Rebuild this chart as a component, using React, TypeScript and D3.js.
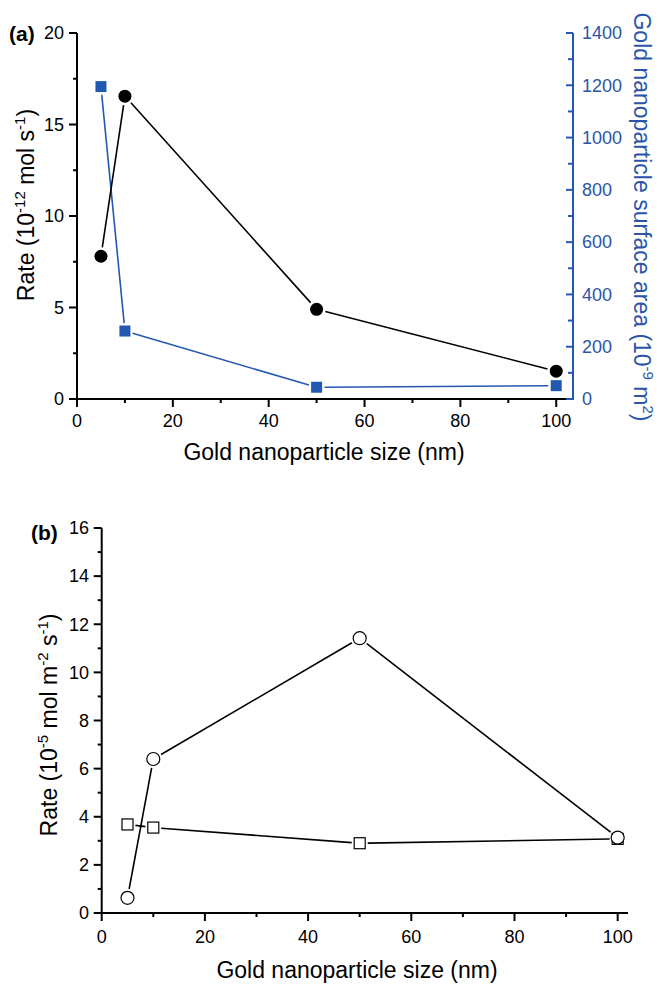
import React from "react";
import * as d3 from "d3";

const sizes = [5, 10, 50, 100];
const rateA = [7.8, 16.55, 4.9, 1.52];
const surfaceArea = [1195, 260, 45, 51];
const rateB_circle = [0.63, 6.4, 11.42, 3.13];
const rateB_square = [3.68, 3.55, 2.9, 3.08];

const xTicksMajor = [0, 20, 40, 60, 80, 100];
const xTicksMinor = [10, 30, 50, 70, 90];
const yTicksA = [0, 5, 10, 15, 20];
const yMinorA = [2.5, 7.5, 12.5, 17.5];
const yTicksRight = [0, 200, 400, 600, 800, 1000, 1200, 1400];
const yMinorRight = [100, 300, 500, 700, 900, 1100, 1300];
const yTicksB = [0, 2, 4, 6, 8, 10, 12, 14, 16];
const yMinorB = [1, 3, 5, 7, 9, 11, 13, 15];

const FONT = "'Liberation Sans', Arial, sans-serif";
const BLUE = "#2358b2";
const BLUE_TEXT = "#2a55a8";

function gappedSegments(pts: [number, number][], gap: number) {
  const segs: [number, number, number, number][] = [];
  for (let i = 0; i < pts.length - 1; i++) {
    const [x1, y1] = pts[i];
    const [x2, y2] = pts[i + 1];
    const dx = x2 - x1, dy = y2 - y1;
    const L = Math.hypot(dx, dy);
    if (L <= 2 * gap) continue;
    const ux = dx / L, uy = dy / L;
    segs.push([x1 + ux * gap, y1 + uy * gap, x2 - ux * gap, y2 - uy * gap]);
  }
  return segs;
}

export default function App() {
  // Panel (a)
  const xA = d3.scaleLinear().domain([0, 103.5]).range([77, 573]);
  const yA = d3.scaleLinear().domain([0, 20]).range([399, 33]);
  const yR = d3.scaleLinear().domain([0, 1400]).range([399, 33]);
  // Panel (b)
  const xB = d3.scaleLinear().domain([0, 102]).range([101.7, 628]);
  const yB = d3.scaleLinear().domain([0, 16]).range([913, 528]);

  const ptsA = sizes.map((s, i) => [xA(s), yA(rateA[i])] as [number, number]);
  const ptsR = sizes.map((s, i) => [xA(s), yR(surfaceArea[i])] as [number, number]);
  const ptsBc = sizes.map((s, i) => [xB(s), yB(rateB_circle[i])] as [number, number]);
  const ptsBs = sizes.map((s, i) => [xB(s), yB(rateB_square[i])] as [number, number]);

  const tickFont = 18;
  const labelFont = 23;
  const supFont = 15;
  const sup = -9;

  return (
    <svg
      width={660}
      height={985}
      style={{ position: "absolute", left: 0, top: 0, background: "#fff" }}
      fontFamily={FONT}
    >
      <rect width={660} height={985} fill="#fff" />

      {/* ===== Panel (a) ===== */}
      {gappedSegments(ptsR, 8).map((s, i) => (
        <line key={"r" + i} x1={s[0]} y1={s[1]} x2={s[2]} y2={s[3]} stroke={BLUE} strokeWidth={1.6} />
      ))}
      {gappedSegments(ptsA, 9).map((s, i) => (
        <line key={"a" + i} x1={s[0]} y1={s[1]} x2={s[2]} y2={s[3]} stroke="#000" strokeWidth={1.6} />
      ))}
      {ptsR.map(([x, y], i) => (
        <rect key={"rs" + i} x={x - 5.5} y={y - 5.5} width={11} height={11} fill={BLUE} />
      ))}
      {ptsA.map(([x, y], i) => (
        <circle key={"ac" + i} cx={x} cy={y} r={6.5} fill="#000" />
      ))}

      {/* left axis */}
      <line x1={77} y1={yA(20)} x2={77} y2={399} stroke="#000" strokeWidth={2} />
      {yTicksA.map((t) => (
        <g key={"yta" + t}>
          <line x1={77} x2={69} y1={yA(t)} y2={yA(t)} stroke="#000" strokeWidth={2} />
          <text x={64} y={yA(t)} dy="0.35em" textAnchor="end" fontSize={tickFont}>{t}</text>
        </g>
      ))}
      {yMinorA.map((t) => (
        <line key={"yma" + t} x1={77} x2={73} y1={yA(t)} y2={yA(t)} stroke="#000" strokeWidth={2} />
      ))}
      {/* bottom axis */}
      <line x1={76} y1={399} x2={573} y2={399} stroke="#000" strokeWidth={2} />
      {xTicksMajor.map((t) => (
        <g key={"xta" + t}>
          <line x1={xA(t)} x2={xA(t)} y1={399} y2={407} stroke="#000" strokeWidth={2} />
          <text x={xA(t)} y={427} textAnchor="middle" fontSize={tickFont}>{t}</text>
        </g>
      ))}
      {xTicksMinor.map((t) => (
        <line key={"xma" + t} x1={xA(t)} x2={xA(t)} y1={399} y2={403} stroke="#000" strokeWidth={2} />
      ))}
      {/* right axis */}
      <line x1={573} y1={yR(1400)} x2={573} y2={400} stroke={BLUE} strokeWidth={2} />
      {yTicksRight.map((t) => (
        <g key={"ytr" + t}>
          <line x1={573} x2={566} y1={yR(t)} y2={yR(t)} stroke={BLUE} strokeWidth={2} />
          <text x={582} y={yR(t)} dy="0.35em" textAnchor="start" fontSize={tickFont} fill={BLUE_TEXT}>{t}</text>
        </g>
      ))}
      {yMinorRight.map((t) => (
        <line key={"ymr" + t} x1={573} x2={568} y1={yR(t)} y2={yR(t)} stroke={BLUE} strokeWidth={2} />
      ))}

      {/* labels */}
      <text x={9} y={41} fontSize={21} fontWeight="bold">(a)</text>
      <text x={324} y={460} textAnchor="middle" fontSize={labelFont}>Gold nanoparticle size (nm)</text>
      <text transform={`translate(34,205) rotate(-90)`} textAnchor="middle" fontSize={labelFont}>
        Rate (10<tspan dy={sup} fontSize={supFont}>-12</tspan><tspan dy={-sup}> mol s</tspan><tspan dy={sup} fontSize={supFont}>-1</tspan><tspan dy={-sup}>)</tspan>
      </text>
      <text transform={`translate(634,217) rotate(90)`} textAnchor="middle" fontSize={labelFont} fill={BLUE_TEXT}>
        Gold nanoparticle surface area (10<tspan dy={sup} fontSize={supFont}>-9</tspan><tspan dy={-sup}> m</tspan><tspan dy={sup} fontSize={supFont}>2</tspan><tspan dy={-sup}>)</tspan>
      </text>

      {/* ===== Panel (b) ===== */}
      {gappedSegments(ptsBs, 8).map((s, i) => (
        <line key={"bs" + i} x1={s[0]} y1={s[1]} x2={s[2]} y2={s[3]} stroke="#000" strokeWidth={1.6} />
      ))}
      {gappedSegments(ptsBc, 9).map((s, i) => (
        <line key={"bc" + i} x1={s[0]} y1={s[1]} x2={s[2]} y2={s[3]} stroke="#000" strokeWidth={1.6} />
      ))}
      {ptsBs.map(([x, y], i) => (
        <rect key={"bsq" + i} x={x - 5.5} y={y - 5.5} width={11} height={11} fill="#fff" stroke="#000" strokeWidth={1.2} />
      ))}
      {ptsBc.map(([x, y], i) => (
        <circle key={"bcc" + i} cx={x} cy={y} r={6.5} fill="#fff" stroke="#000" strokeWidth={1.2} />
      ))}

      <line x1={101.7} y1={yB(16)} x2={101.7} y2={913} stroke="#000" strokeWidth={2} />
      {yTicksB.map((t) => (
        <g key={"ytb" + t}>
          <line x1={101.7} x2={93.7} y1={yB(t)} y2={yB(t)} stroke="#000" strokeWidth={2} />
          <text x={89} y={yB(t)} dy="0.35em" textAnchor="end" fontSize={tickFont}>{t}</text>
        </g>
      ))}
      {yMinorB.map((t) => (
        <line key={"ymb" + t} x1={101.7} x2={97.7} y1={yB(t)} y2={yB(t)} stroke="#000" strokeWidth={2} />
      ))}
      <line x1={100.7} y1={913} x2={628} y2={913} stroke="#000" strokeWidth={2} />
      {xTicksMajor.map((t) => (
        <g key={"xtb" + t}>
          <line x1={xB(t)} x2={xB(t)} y1={913} y2={921} stroke="#000" strokeWidth={2} />
          <text x={xB(t)} y={943} textAnchor="middle" fontSize={tickFont}>{t}</text>
        </g>
      ))}
      {xTicksMinor.map((t) => (
        <line key={"xmb" + t} x1={xB(t)} x2={xB(t)} y1={913} y2={917} stroke="#000" strokeWidth={2} />
      ))}

      <text x={31} y={540} fontSize={21} fontWeight="bold">(b)</text>
      <text x={357} y={978} textAnchor="middle" fontSize={labelFont}>Gold nanoparticle size (nm)</text>
      <text transform={`translate(57,725) rotate(-90)`} textAnchor="middle" fontSize={labelFont}>
        Rate (10<tspan dy={sup} fontSize={supFont}>-5</tspan><tspan dy={-sup}> mol m</tspan><tspan dy={sup} fontSize={supFont}>-2</tspan><tspan dy={-sup}> s</tspan><tspan dy={sup} fontSize={supFont}>-1</tspan><tspan dy={-sup}>)</tspan>
      </text>
    </svg>
  );
}
